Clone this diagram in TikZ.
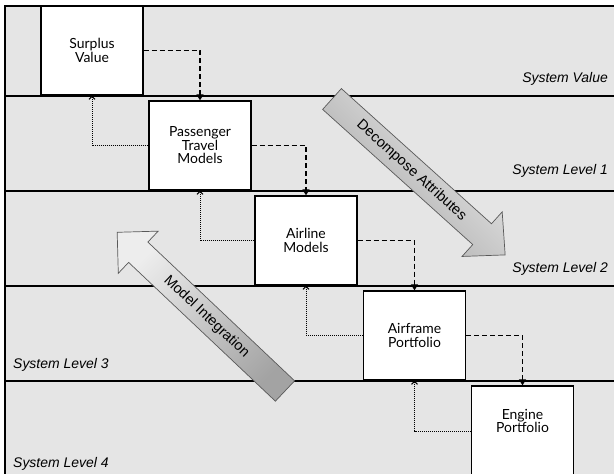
\documentclass[tikz,border=0pt]{standalone}
\usepackage{fontspec}
\setmainfont{Liberation Sans}
\newfontfamily\boxfont{Lato}
\usetikzlibrary{arrows.meta}

\tikzset{
  modelbox/.style={draw, line width=1.3bp, fill=white, minimum width=102bp,
    minimum height=89bp, inner sep=0pt, align=center,
    font=\boxfont\fontsize{14}{13.5}\selectfont},
  levellabel/.style={inner sep=0pt, font=\itshape\fontsize{14}{16}\selectfont},
  arrowtext/.style={inner sep=0pt, font=\fontsize{14.5}{16}\selectfont},
  flowdown/.style={line width=1.2bp, dash pattern=on 5bp off 3bp,
    -{Triangle[width=7bp,length=6bp]}},
  feedup/.style={line width=1bp, dash pattern=on 1bp off 1bp,
    -{Straight Barb[length=3bp,width=6bp]}},
  bigarrow/.style={draw=black!65, line width=0.7bp, top color=black!7, bottom color=black!36},
}

\begin{document}
\begin{tikzpicture}[x=1bp,y=-1bp]
\useasboundingbox (0,0) rectangle (614,474);
\clip (0,0) rectangle (614,474);

% levels
\fill[black!10] (5,6) rectangle (614,474);
\draw[line width=1.5bp] (614,6) -- (5,6) -- (5,474);
\foreach \y in {96,191,286,381}
  \draw[line width=1.5bp] (5,\y) -- (614,\y);

\node[levellabel, anchor=base east] (lvv) at (608,83) {System Value};
\node[levellabel, anchor=base east] (lv1) at (608,175) {System Level 1};
\node[levellabel, anchor=base east] (lv2) at (608,273) {System Level 2};
\node[levellabel, anchor=base west] (lv3) at (13,368) {System Level 3};
\node[levellabel, anchor=base west] (lv4) at (13,467) {System Level 4};

% decompose / integrate
\begin{scope}[shift={(332,99)}, rotate=-42]
  \shade[bigarrow, shading angle=-45] (0,-14) -- (202,-14) -- (202,-30) -- (233,0)
    -- (202,30) -- (202,14) -- (0,14) -- cycle;
  \node[arrowtext, rotate=-42] (dec) at (107,0) {Decompose Attributes};
\end{scope}
\begin{scope}[shift={(285,391)}, rotate=136.6]
  \shade[bigarrow, shading angle=45] (0,-14) -- (202,-14) -- (202,-29) -- (231,0)
    -- (202,29) -- (202,14) -- (0,14) -- cycle;
  \node[arrowtext, rotate=-43.4] (int) at (108,0) {Model Integration};
\end{scope}

% models
\node[modelbox] (sv) at (92,50.5) {Surplus\\Value};
\node[modelbox] (ptm) at (200,145.5) {Passenger\\Travel\\Models};
\node[modelbox] (am) at (306,240.5) {Airline\\Models};
\node[modelbox] (afp) at (414.5,335.5) {Airframe\\Portfolio};
\node[modelbox, minimum height=90bp, text depth=20bp] (ep) at (522.5,431) {Engine\\Portfolio};

\draw[flowdown] (sv.east) -| (ptm.north);
\draw[flowdown] (ptm.east) -| (am.north);
\draw[flowdown] (am.east) -| (afp.north);
\draw[flowdown] (afp.east) -| (ep.north);

\draw[feedup] (ptm.west) -| (sv.south);
\draw[feedup] (am.west) -| (ptm.south);
\draw[feedup] (afp.west) -| (am.south);
\draw[feedup] (ep.west) -| (afp.south);

\end{tikzpicture}
\end{document}
